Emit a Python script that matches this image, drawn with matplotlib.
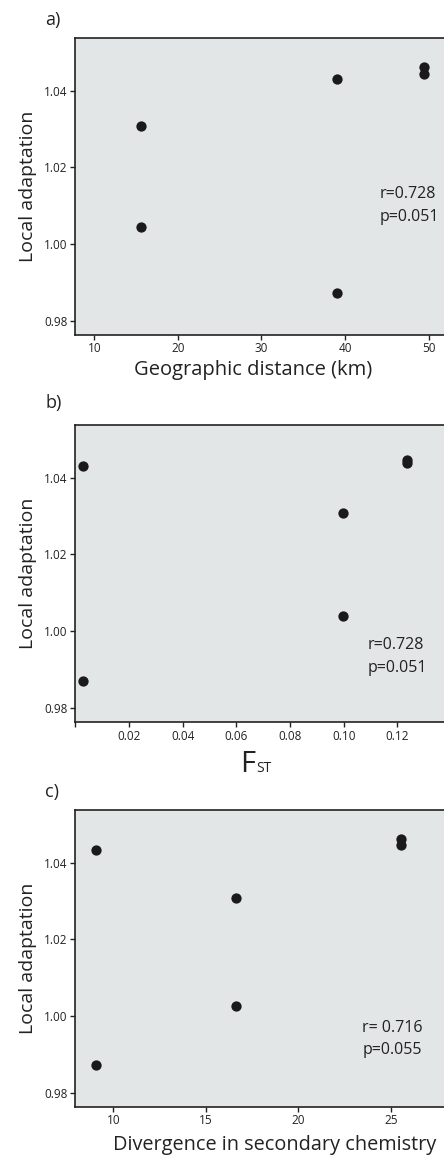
import matplotlib
matplotlib.use("Agg")
import matplotlib.pyplot as plt

plt.rcParams['font.family'] = ['Open Sans', 'DejaVu Sans']

# Data
geo_dist = [15.6, 15.6, 39.0, 39.0, 49.5, 49.5]
fst = [0.0028, 0.0028, 0.0996, 0.0996, 0.1236, 0.1236]
chem_div = [9.05, 9.05, 16.65, 16.65, 25.54, 25.54]
local_a = [1.0307, 1.0043, 1.0431, 0.9873, 1.0462, 1.0445]
local_b = [1.0430, 0.9870, 1.0307, 1.0039, 1.0447, 1.0437]
local_c = [1.0432, 0.9872, 1.0308, 1.0025, 1.0461, 1.0447]

yticks = [0.98, 1.00, 1.02, 1.04]
xticks_a = [10, 20, 30, 40, 50]
xticks_b = [0.0, 0.02, 0.04, 0.06, 0.08, 0.10, 0.12]
xtlabels_b = ['', '0.02', '0.04', '0.06', '0.08', '0.10', '0.12']
xticks_c = [10, 15, 20, 25]

panel_labels = ['a)', 'b)', 'c)']
stats = [('r=0.728', 'p=0.051'), ('r=0.728', 'p=0.051'), ('r= 0.716', 'p=0.055')]

W, H = 444, 1157
fig = plt.figure(figsize=(W / 100, H / 100), dpi=100)

bg = '#e3e6e7'
dot = '#1a1a1a'
txt = '#222222'

def make_ax(top_px, bot_px, left_px=75.3):
    return fig.add_axes([left_px / W, 1 - bot_px / H, (W - left_px) / W + 0.002, (bot_px - top_px) / H])

axes = [make_ax(38.3, 334.7), make_ax(425, 722.3), make_ax(810, 1106.7)]
xs = [geo_dist, fst, chem_div]
ys = [local_a, local_b, local_c]
xlims = [(7.72, 51.96), (0.0, 0.1377), (7.94, 27.93)]
xtick_sets = [xticks_a, xticks_b, xticks_c]
stat_pos = [(0.824, 0.475, 0.397), (0.791, 0.260, 0.183), (0.777, 0.265, 0.191)]

for i, ax in enumerate(axes):
    ax.set_facecolor(bg)
    ax.scatter(xs[i], ys[i], s=55, color=dot, zorder=3, linewidths=0)
    ax.set_xlim(*xlims[i])
    ax.set_ylim(0.9763, 1.0537)
    ax.set_yticks(yticks)
    ax.set_yticklabels([f'{v:.2f}' for v in yticks])
    ax.set_xticks(xtick_sets[i])
    if i == 1:
        ax.set_xticklabels(xtlabels_b)
    else:
        ax.set_xticklabels([str(v) for v in xtick_sets[i]])
    ax.spines['right'].set_visible(False)
    for sp in ['top', 'left', 'bottom']:
        ax.spines[sp].set_linewidth(1.2)
        ax.spines[sp].set_color(txt)
    ax.tick_params(direction='out', length=3.5, width=1, labelsize=8.5, pad=2, colors=txt)
    ax.set_ylabel('Local adaptation', fontsize=14, color=txt, labelpad=5)
    sx, sy1, sy2 = stat_pos[i]
    ax.text(sx, sy1, stats[i][0], transform=ax.transAxes, fontsize=11.5, va='center', ha='left', color=txt)
    ax.text(sx, sy2, stats[i][1], transform=ax.transAxes, fontsize=11.5, va='center', ha='left', color=txt)

# panel labels
for lab, ypx in zip(panel_labels, [20, 403, 792]):
    fig.text(45 / W, 1 - ypx / H, lab, fontsize=13, va='center', ha='left', color=txt)

# x labels
fig.text(253 / W, 1 - 370 / H, 'Geographic distance (km)', fontsize=14.5, ha='center', va='center', color=txt)
fig.text(255 / W, 1 - 771.7 / H, 'F', fontsize=21, ha='right', va='baseline', color=txt)
fig.text(256 / W, 1 - 771.7 / H, 'ST', fontsize=10, ha='left', va='baseline', color=txt)
fig.text(274.5 / W, 1 - 1145 / H, 'Divergence in secondary chemistry', fontsize=14.3, ha='center', va='center', color=txt)

fig.savefig('out.png', dpi=100)
